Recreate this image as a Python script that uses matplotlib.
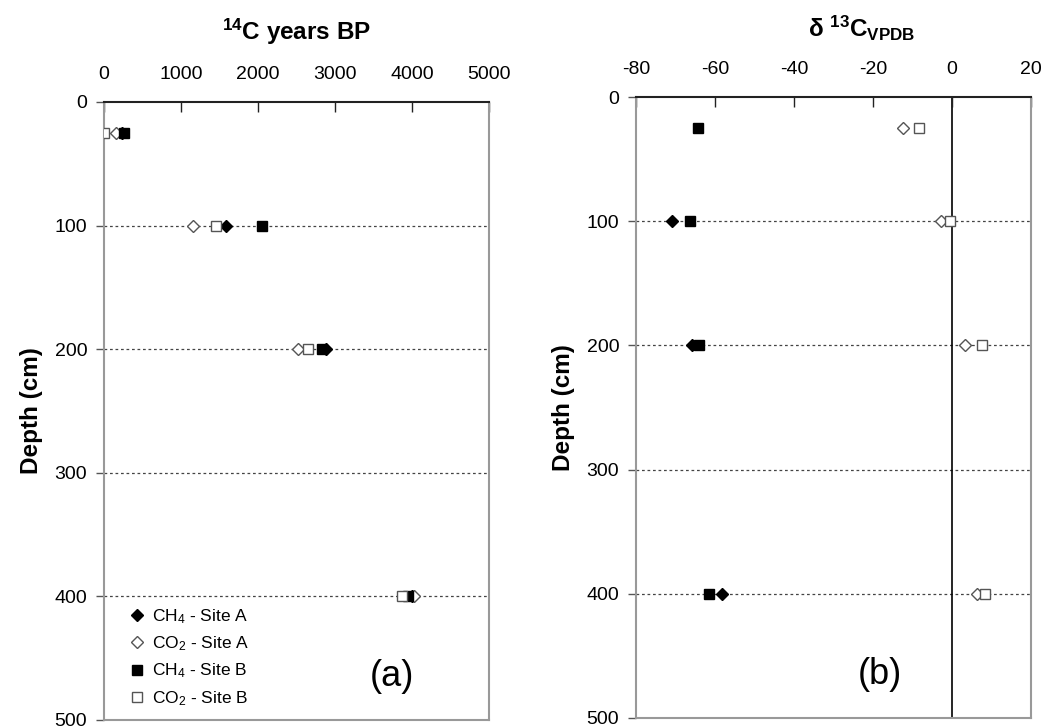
import matplotlib
matplotlib.use("Agg")
import matplotlib.pyplot as plt
import numpy as np

plt.rcParams['font.family'] = ['Liberation Sans', 'DejaVu Sans']
plt.rcParams['mathtext.default'] = 'regular'
plt.rcParams['axes.unicode_minus'] = False

depths = [25, 100, 200, 400]
# 14C years BP
age_ch4_a = [235, 1585, 2880, 4000]
age_co2_a = [155, 1155, 2520, 4025]
age_ch4_b = [260, 2050, 2830, 3950]
age_co2_b = [0, 1455, 2650, 3870]
# delta 13C VPDB
d13_ch4_a = [np.nan, -71.0, -65.7, -58.3]
d13_co2_a = [-12.4, -2.8, 3.3, 6.3]
d13_ch4_b = [-64.4, -66.4, -64.1, -61.4]
d13_co2_b = [-8.3, -0.5, 7.6, 8.3]

labels = ['CH$_4$ - Site A', 'CO$_2$ - Site A', 'CH$_4$ - Site B', 'CO$_2$ - Site B']
xticks_a = [0, 1000, 2000, 3000, 4000, 5000]
xticks_b = [-80, -60, -40, -20, 0, 20]
yticks = [0, 100, 200, 300, 400, 500]

fig = plt.figure(figsize=(10.44, 7.26), dpi=100)
axa = fig.add_axes([104/1044, 1-720/726, 385/1044, 618/726])
axb = fig.add_axes([636/1044, 1-718/726, 395/1044, 621/726])

styles = [
    dict(marker='D', mfc='black', mec='black', ms=6.5),
    dict(marker='D', mfc='white', mec='#555555', ms=6.5),
    dict(marker='s', mfc='black', mec='black', ms=7),
    dict(marker='s', mfc='white', mec='#555555', ms=7),
]

def setup(ax, xlim, xticks):
    ax.set_xlim(*xlim)
    ax.set_ylim(500, 0)
    ax.xaxis.tick_top()
    ax.set_xticks(xticks)
    ax.set_yticks(yticks)
    ax.tick_params(axis='x', direction='in', length=7, width=1, pad=14,
                   labelsize=14, color='#222222')
    ax.tick_params(axis='y', direction='out', length=6, width=1, pad=6,
                   labelsize=14, color='#555555')
    for s in ['left', 'right', 'bottom']:
        ax.spines[s].set_color('#999999')
        ax.spines[s].set_linewidth(1.5)
    ax.spines['top'].set_color('#222222')
    ax.spines['top'].set_linewidth(1.5)
    for d in [100, 200, 300, 400]:
        ax.axhline(d, color='#444444', lw=0.9, ls=(0, (2.2, 2.2)), zorder=1)
    ax.set_ylabel('Depth (cm)', fontsize=17.5, fontweight='bold', labelpad=8)

setup(axa, (0, 5000), xticks_a)
setup(axb, (-80, 20), xticks_b)
axb.axvline(0, color='black', lw=1.2, zorder=1)

for vals, st, lab in zip([age_ch4_a, age_co2_a, age_ch4_b, age_co2_b], styles, labels):
    axa.plot(vals, depths, ls='none', mew=1, label=lab, zorder=3, **st)
for vals, st in zip([d13_ch4_a, d13_co2_a, d13_ch4_b, d13_co2_b], styles):
    axb.plot(vals, depths, ls='none', mew=1, zorder=3, **st)

axa.legend(loc='lower left', bbox_to_anchor=(0.035, 0.0), frameon=False,
           fontsize=12.5, handlelength=0.8, handletextpad=0.5, labelspacing=0.5,
           borderaxespad=0.3)

axa.text(0.69, 0.055, '(a)', transform=axa.transAxes, fontsize=26)
axb.text(0.562, 0.055, '(b)', transform=axb.transAxes, fontsize=26)

fig.text(297/1044, 1-32/726, '$^{14}$C years BP', ha='center', va='center',
         fontsize=17.5, fontweight='bold')
fig.text(862/1044, 1-28/726, 'δ $^{13}$C$_{VPDB}$', ha='center', va='center',
         fontsize=17.5, fontweight='bold')

fig.savefig('out.png', dpi=100)
